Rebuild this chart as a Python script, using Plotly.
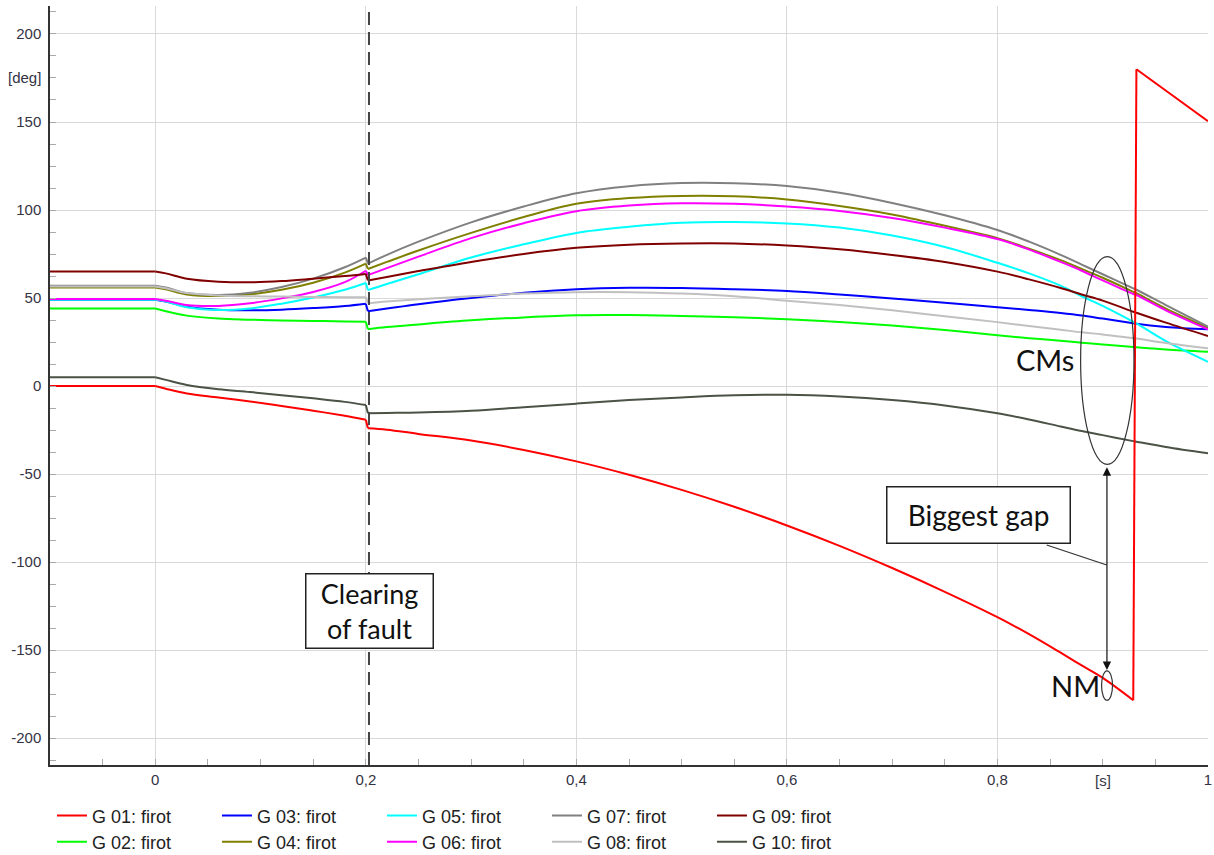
import plotly.graph_objects as go

# ---------------- data ----------------
T = [-0.1, 0.0, 0.01, 0.03, 0.06, 0.09, 0.12, 0.15, 0.18, 0.2, 0.202, 0.22, 0.25,
     0.3, 0.35, 0.4, 0.45, 0.5, 0.55, 0.6, 0.65, 0.7, 0.75, 0.8, 0.83, 0.86, 0.88,
     0.9, 0.929, 0.932, 0.96, 1.0]

G01 = [0, 0, -1.5, -4.2, -6.5, -8.8, -11.3, -14.0, -16.9, -19.1, -24.0, -24.8, -27.2,
       -31, -36.3, -42.8, -50.4, -59, -68.6, -79.2, -90.8, -103.4, -116.9, -131.3, -141, -151.5, -158.7,
       -165.8, -178.5, 180, 168, 150.5]
G02 = [44, 44, 42.5, 40, 38.3, 37.7, 37.2, 37.0, 36.7, 36.5, 32.3, 33.5, 35,
       37.3, 39, 40.2, 40.3, 39.8, 39.1, 38, 36.4, 34.4, 31.9, 28.9, 27.2, 25.7, 24.6,
       23.6, 22.2, 22.0, 20.8, 19.5]
G03 = [49, 49, 48, 45, 43.3, 43, 43.4, 44.3, 45.5, 46.8, 42.5, 44, 46.5,
       50, 53, 55, 55.8, 55.7, 55, 54, 52, 49.7, 47.3, 44.8, 43.2, 41.5, 40.1,
       38.3, 35.7, 35.4, 33.6, 32.2]
G04 = [56, 56, 55, 52, 51.1, 52.1, 54.7, 58.7, 64.4, 69.5, 66.5, 70.5, 77,
       87, 96, 103.5, 106.8, 108, 107.8, 106, 102.3, 97.5, 91, 84, 78, 71.5, 66.5,
       61.5, 53.5, 52.7, 44, 33]
G05 = [49, 49, 48, 44.8, 43.2, 44.1, 46.8, 50.3, 54.7, 58.5, 54.5, 58, 63.5,
       73, 80.5, 87, 90.5, 92.8, 93.2, 92.4, 90, 85.5, 79, 70, 64, 57, 51,
       45.5, 36.5, 35.6, 25.5, 13.8]
G06 = [49.5, 49.5, 48.5, 46, 45.5, 47, 49.8, 53.4, 59, 65.5, 63, 67, 73.5,
       84, 92.5, 99.3, 102.5, 103.8, 103.5, 102, 99.5, 95.5, 90, 83.5, 77.5, 70.5, 65.5,
       60, 52.3, 51.7, 43, 32.2]
G07 = [57, 57, 56, 52.8, 51.7, 53, 56.2, 61, 67.5, 73, 69.5, 74.5, 82,
       93, 102, 109.5, 113.5, 115.3, 115.2, 113.6, 109.8, 104, 97, 88.6, 82, 74.5, 69,
       63.5, 55.5, 54.7, 46, 33.7]
G08 = [56.5, 56.5, 55.5, 52.8, 51.5, 51, 50.8, 50.6, 50.5, 50.5, 47, 48, 49.3,
       51, 52.5, 53.3, 53.3, 52.5, 51, 48.5, 46, 43, 39.7, 36.3, 34.1, 32, 30.5,
       29.3, 27.2, 27, 24.5, 21.4]
G09 = [65, 65, 64, 61, 59.3, 58.9, 59.6, 61, 62.5, 63.7, 60, 62, 65.3,
       70.5, 75, 78.5, 80.3, 81, 81, 79.8, 77.7, 74.5, 70.5, 65, 60.6, 55.7, 52,
       48.5, 42.2, 41.6, 36, 28.4]
G10 = [5, 5, 3.5, 0.6, -1.8, -3.4, -5.2, -7.0, -9.0, -10.8, -15.5, -15.3, -15,
       -14, -12, -10, -8, -6.5, -5.3, -5, -6, -8, -11, -15.5, -19, -23, -25.6,
       -27.9, -31.3, -31.6, -34.6, -38.2]

NAMES = ["G 01: firot", "G 02: firot", "G 03: firot", "G 04: firot", "G 05: firot",
         "G 06: firot", "G 07: firot", "G 08: firot", "G 09: firot", "G 10: firot"]
COLORS = ["#ff0000", "#00ff00", "#0000ff", "#808000", "#00ffff",
          "#ff00ff", "#808080", "#c0c0c0", "#800000", "#4b5246"]
VALUES = [G01, G02, G03, G04, G05, G06, G07, G08, G09, G10]

X_TICKS = [0, 0.2, 0.4, 0.6, 0.8, 1.0]
X_LABELS = ["0", "0,2", "0,4", "0,6", "0,8", "1"]
Y_TICKS = [-200, -150, -100, -50, 0, 50, 100, 150, 200]
Y_LABELS = ["-200", "-150", "-100", "-50", "0", "50", "100", "150", "200"]

T_CLEAR = 0.203

# index ranges of the curve pieces (smooth parts vs. jumps)
I_FAULT = T.index(0.0)
I_CLR0 = T.index(0.2)
I_CLR1 = T.index(0.202)
I_SLIP0 = T.index(0.929)
I_SLIP1 = T.index(0.932)
LAST = len(T) - 1

def pieces(is_slipping):
    p = [(0, I_FAULT, "linear"), (I_FAULT, I_CLR0, "spline"), (I_CLR0, I_CLR1, "linear")]
    if is_slipping:
        p += [(I_CLR1, I_SLIP0, "spline"), (I_SLIP0, I_SLIP1, "linear"), (I_SLIP1, LAST, "linear")]
    else:
        p += [(I_CLR1, LAST, "spline")]
    return p

# ---------------- figure ----------------
fig = go.Figure()
order = [1, 2, 3, 4, 5, 6, 7, 8, 9, 0]  # draw red last (on top)
for i in order:
    for k, (a, b, shape) in enumerate(pieces(i == 0)):
        fig.add_trace(go.Scatter(
            x=T[a:b + 1], y=VALUES[i][a:b + 1], mode="lines", name=NAMES[i],
            line=dict(color=COLORS[i], width=2, shape=shape, smoothing=1.0),
            legend="legend" if i % 2 == 0 else "legend2",
            legendgroup=NAMES[i], legendrank=i + 1,
            showlegend=(k == 0), hoverinfo="x+y+name",
        ))

tickfont = dict(family="Liberation Sans, Arial", size=15, color="#333344")
annfont = dict(family="Lato, Open Sans", size=27, color="#111111")
legfont = dict(family="Liberation Sans, Arial", size=18, color="#222222")

fig.update_layout(
    width=1214, height=855,
    margin=dict(l=50, r=6, t=6, b=90, autoexpand=False),
    paper_bgcolor="white", plot_bgcolor="white",
    xaxis=dict(range=[-0.1, 1.0], tickmode="array", tickvals=X_TICKS, ticktext=X_LABELS,
               showgrid=True, gridcolor="#d9d9d9", gridwidth=1.3, zeroline=False,
               showline=True, linecolor="#333333", linewidth=1.5,
               ticks="inside", ticklen=6, tickcolor="#aaaaaa", tickfont=tickfont,
               minor=dict(tickmode="linear", tick0=0, dtick=0.05, ticks="inside",
                          ticklen=6, tickcolor="#aaaaaa", showgrid=False)),
    yaxis=dict(range=[-215.3, 215.9], tickmode="array", tickvals=Y_TICKS, ticktext=Y_LABELS,
               showgrid=True, gridcolor="#d9d9d9", gridwidth=1.3, zeroline=False,
               showline=True, linecolor="#333333", linewidth=1.5,
               ticks="inside", ticklen=6, tickcolor="#aaaaaa", tickfont=tickfont,
               ticklabelstandoff=4,
               minor=dict(tickmode="linear", tick0=0, dtick=12.5, ticks="inside",
                          ticklen=6, tickcolor="#aaaaaa", showgrid=False)),
    legend=dict(orientation="h", x=0.0017, xanchor="left", y=-0.067, yanchor="middle",
                entrywidth=120, entrywidthmode="pixels", bgcolor="rgba(0,0,0,0)",
                font=legfont),
    legend2=dict(orientation="h", x=0.0017, xanchor="left", y=-0.1014, yanchor="middle",
                 entrywidth=120, entrywidthmode="pixels", bgcolor="rgba(0,0,0,0)",
                 font=legfont),
    showlegend=True,
)

# clearing-of-fault dashed line
fig.add_shape(type="line", x0=T_CLEAR, x1=T_CLEAR, xref="x", y0=0, y1=1, yref="paper",
              line=dict(color="#444444", width=2, dash="13px,7px"), layer="above")
# connector from "Biggest gap" box to arrow
fig.add_shape(type="line", x0=0.8468, y0=-90.3, x1=0.9038, y1=-101.7,
              line=dict(color="#333333", width=1.2), layer="above")
# CMs ellipse
fig.add_shape(type="circle", x0=0.879, x1=0.9297, y0=-44.5, y1=73.5,
              line=dict(color="#333333", width=1.2), layer="above")
# NM ellipse
fig.add_shape(type="circle", x0=0.8989, x1=0.9093, y0=-178.5, y1=-161.8,
              line=dict(color="#333333", width=1.2), layer="above")

# double arrow (biggest gap)
fig.add_annotation(x=0.904, y=-161.3, ax=0.904, ay=-45.3, xref="x", yref="y",
                   axref="x", ayref="y", text="", showarrow=True, arrowhead=2,
                   startarrowhead=2, arrowside="end+start", arrowsize=1.4,
                   startarrowsize=1.4, arrowwidth=1.2, arrowcolor="#111111")

# boxes
fig.add_annotation(x=0.2032, y=-127.7, text="Clearing<br>of fault", showarrow=False,
                   font=annfont, bgcolor="white", bordercolor="#222222", borderwidth=1.5,
                   borderpad=1, width=124, height=71)
fig.add_annotation(x=0.7816, y=-73.5, text="Biggest gap", showarrow=False,
                   font=dict(family="Lato, Open Sans", size=28, color="#111111"),
                   bgcolor="white", bordercolor="#222222", borderwidth=1.5,
                   borderpad=1, width=180, height=53)
fig.add_annotation(x=0.845, y=14.8, text="CMs", showarrow=False,
                   font=dict(family="Lato, Open Sans", size=29, color="#111111"))
fig.add_annotation(x=0.8737, y=-169.9, text="NM", showarrow=False,
                   font=dict(family="Lato, Open Sans", size=29, color="#111111"))

# unit labels
fig.add_annotation(x=0, xref="paper", xanchor="right", xshift=-7, y=175, yref="y",
                   text="[deg]", showarrow=False, font=tickfont)
fig.add_annotation(x=0.9, xref="x", y=0, yref="paper", yanchor="middle", yshift=-15,
                   text="[s]", showarrow=False, font=tickfont)

fig.write_html("out.html")
